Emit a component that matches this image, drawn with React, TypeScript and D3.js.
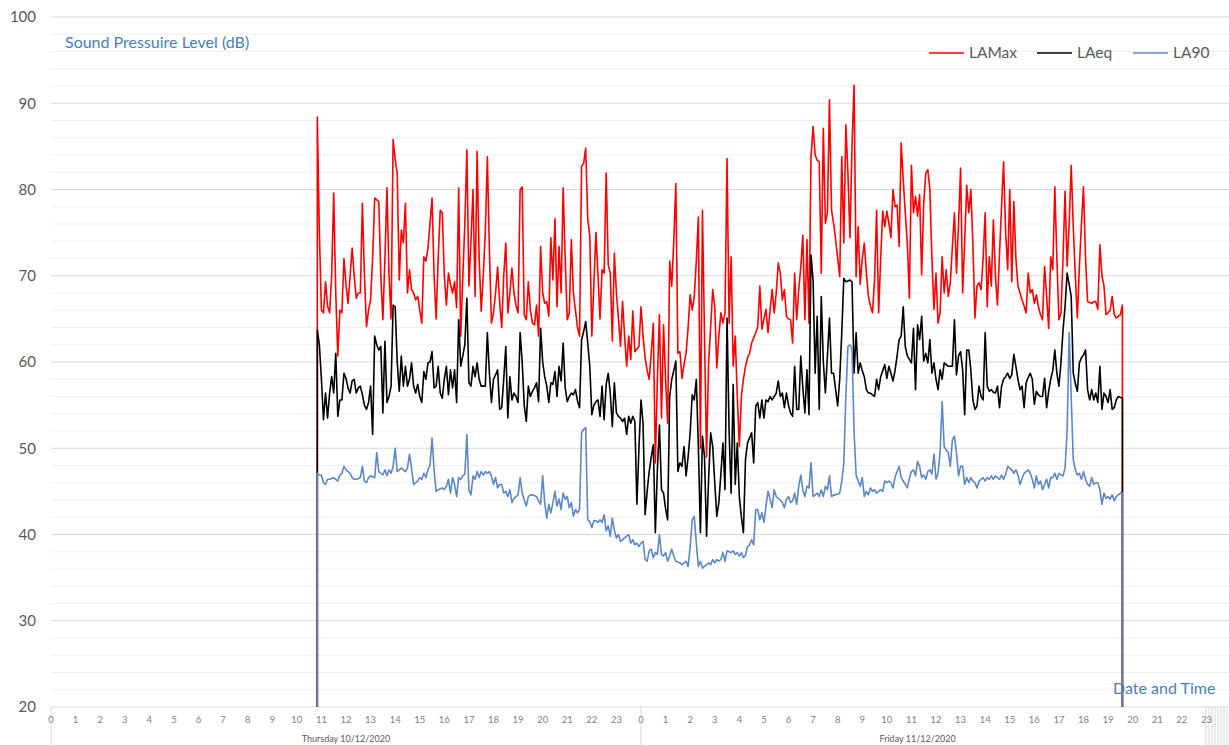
import React from 'react';
import * as d3 from 'd3';

// 5-minute samples from Thursday 10/12/2020 10:50 to Friday 11/12/2020 19:35
const LAMAX: number[] = [
  88.4, 75, 66, 65.7, 69.3, 66.5, 65.7, 70, 79.6, 68,
  60.7, 66, 65.7, 72, 69, 66.8, 70, 73.2, 70, 67.4,
  68, 68, 78.4, 70, 64.1, 66, 67.2, 72, 79, 78.8,
  78.6, 70, 64.9, 72, 80.2, 70, 65, 85.8, 83.5, 81.9,
  69.5, 75.3, 73.8, 78.4, 68, 70.7, 68.4, 68, 67.2, 67.6,
  66, 64.5, 72.2, 71.7, 73.2, 76, 79, 70, 65, 72,
  77.6, 77.3, 69.9, 66.6, 70.3, 69, 68, 69.3, 66.3, 80.2,
  63, 69.7, 76, 84.6, 68.8, 74, 80, 67.6, 84.4, 72,
  65.9, 70, 75, 83.8, 73, 64.5, 65.7, 68, 71, 67,
  64, 70, 73.8, 65.7, 68, 70.9, 68, 66.5, 65.7, 80,
  80.3, 65.5, 64.9, 69.3, 66, 64.5, 64.3, 66.6, 63, 73.4,
  68, 66.8, 67, 65.3, 74.4, 69.5, 76.6, 66.4, 73.4, 68,
  80.2, 72, 64.9, 65.7, 74.2, 68, 66, 64, 63, 82.7,
  83, 84.8, 76.6, 74.6, 63, 69, 75, 70, 65, 70.7,
  70.3, 81.9, 71.3, 70.3, 62.4, 72.6, 68, 65, 61.8, 67,
  63, 59.5, 63, 60.3, 65.9, 61.2, 61.5, 61.8, 66.4, 63,
  60.5, 59, 58, 61, 64.5, 48.3, 58, 65.5, 53.5, 64.3,
  58, 52.9, 71.7, 68.8, 74, 80.7, 61, 61.2, 58.1, 59.7,
  61, 64, 67.8, 66, 67.6, 71.7, 76.8, 50, 77.6, 63,
  49, 59.9, 64, 68.4, 66.4, 59.3, 63, 65.7, 64.5, 65.7,
  83.6, 64.5, 72.2, 59.5, 63, 56, 50.2, 56, 58, 59.5,
  60.5, 61, 62.2, 62.8, 63.4, 64.1, 68.8, 63.8, 65, 66.1,
  63.4, 66, 68.4, 65.7, 68, 71.5, 70.3, 67.2, 68.4, 65.3,
  65, 64.9, 62.2, 70.3, 64.9, 68.4, 71, 74.7, 64.9, 74.2,
  64.5, 83.8, 87.3, 84, 83.4, 83.2, 70.3, 87.1, 76.1, 77.3,
  90.4, 77.6, 76.1, 74.2, 72, 69.9, 83.8, 73.8, 87.5, 81.9,
  74.4, 85, 92.1, 69.9, 75.7, 69, 72, 73.8, 70.3, 67.6,
  66.5, 65.7, 69.5, 77.6, 65.7, 72, 77.5, 75.7, 77.5, 76.1,
  74.4, 80, 78, 78.2, 73.4, 85.4, 81.1, 77.3, 73.8, 67.4,
  82.8, 77.3, 79.2, 76.9, 79.4, 70.1, 78.4, 81.9, 82.3, 80,
  72, 66.1, 70.3, 64.5, 65.7, 72.2, 68, 70.7, 67.6, 69.2,
  73.4, 77.3, 70.3, 76, 82.5, 68, 74, 80.5, 77.3, 80,
  73.8, 65.1, 68.8, 69.2, 68.4, 72, 77.3, 66.4, 72.2, 68.8,
  76.5, 70, 66.6, 72.6, 78, 83.2, 75, 70.7, 80, 69.3,
  78.6, 72, 68.8, 68, 67.2, 66.5, 65.7, 70.3, 68, 68.4,
  66.8, 67.8, 66.4, 65.5, 64.9, 71.1, 67.6, 63.9, 72.2, 70.7,
  80.3, 72, 64.9, 65.7, 72, 79.8, 71.1, 76, 82.8, 75.7,
  70, 65.1, 71.1, 76, 80.3, 72, 67, 66.9, 66.8, 67,
  67, 66.1, 73.6, 70, 68.8, 65.5, 65.7, 66, 67.6, 65.5,
  65.1, 65.3, 65.5, 66.6,
];

const LAEQ: number[] = [
  63.7, 62, 58, 53.3, 56.4, 53.5, 56.4, 58.3, 56.4, 61,
  53.7, 55.6, 55.6, 58.7, 58.1, 57, 56.4, 57.8, 58, 56.4,
  57, 57.2, 56.2, 55, 54.5, 55.3, 57.2, 51.6, 63, 62,
  61.4, 61.8, 54.1, 62.4, 55.3, 56, 57.2, 66.6, 66.4, 60,
  56.6, 60.7, 57.2, 59.5, 57.2, 58, 59.9, 57.2, 56.4, 57.4,
  56, 55.3, 58.9, 58, 59.9, 60, 61.2, 57, 57.2, 59.5,
  56.4, 55.8, 58, 59.5, 56.2, 59.1, 57, 59.1, 55.3, 64.9,
  59.5, 60.7, 62, 67.4, 57.6, 57.2, 59.5, 58.3, 59.9, 58,
  57.2, 57.2, 57.2, 63.4, 58.7, 55.3, 58, 58.5, 59.1, 54.5,
  54.7, 58, 61.8, 53.5, 58.3, 55.6, 56.4, 56, 55.3, 63.4,
  60, 55, 53.1, 57.2, 56, 56.6, 57, 57.6, 55.4, 63.9,
  60, 58.3, 57.2, 55.3, 57.6, 57.4, 58.9, 56, 59.5, 57.8,
  62.2, 57, 55.4, 56, 56.4, 56.2, 56.8, 55.5, 54.7, 62.6,
  63.5, 64.7, 62.2, 59.5, 53.9, 55, 55.4, 55.6, 53.7, 57.2,
  53.3, 57.4, 58.7, 56.4, 52.5, 57.6, 54.1, 53.7, 53.5, 53.1,
  53.5, 51.6, 53.7, 52.9, 53.7, 53.1, 43.5, 50, 55.6, 52.9,
  42.3, 45, 47.3, 49, 50.4, 40.2, 47.5, 52.7, 45.2, 44.8,
  43, 41.7, 56, 58, 59, 60.1, 47.3, 48.3, 47.9, 50.2,
  46.8, 49, 51.8, 56.2, 55.6, 58, 50.2, 40.2, 51.4, 49,
  39.8, 46.4, 51.8, 50.2, 46, 42.1, 43.7, 47.1, 50.6, 45.2,
  65.1, 52, 44.8, 57.4, 45.8, 50.6, 44.4, 42, 40.2, 48.7,
  50.6, 51.2, 51.8, 48.3, 54.9, 55.3, 53.5, 55.6, 53.5, 55.6,
  55.4, 56, 55.6, 56, 56.4, 57.8, 56, 56.4, 54.7, 56.4,
  55, 54.1, 53.7, 59.5, 54.5, 54.5, 60.7, 57, 54.1, 59.1,
  53.9, 72.4, 69.5, 58.7, 65.3, 54.5, 67.6, 60, 56.4, 60.7,
  65.1, 58.7, 58.7, 56.8, 54.9, 58, 63.4, 69.7, 69.3, 69.4,
  69.5, 69.3, 58.7, 63.4, 58.7, 59.9, 59, 58.3, 56.8, 56.4,
  56.4, 56.2, 56, 58, 56.8, 58.3, 59, 59.7, 58.1, 59.5,
  58.7, 57.8, 59, 60.7, 62.6, 63, 66.4, 61.8, 60.7, 60.3,
  59.9, 63.9, 56.8, 64.3, 62.6, 65.3, 60.1, 61, 59.9, 62.6,
  58.7, 59.9, 58, 56.8, 59.1, 58, 59.9, 59.7, 59.5, 59.5,
  59.5, 64.9, 58.5, 60.7, 61.2, 59.1, 53.9, 61.4, 61.4, 59.1,
  55.6, 54.5, 54.9, 57.2, 56, 55.6, 63.4, 57.2, 56.6, 56.8,
  56.5, 56.4, 57.2, 54.7, 57.2, 58, 58.3, 58.7, 58.1, 58.5,
  60.9, 59.5, 58, 56.8, 57.2, 54.7, 57.6, 58.2, 58.7, 58,
  55.1, 56.6, 56.2, 56, 56, 58.1, 54.7, 56.6, 58, 59,
  61.4, 58.7, 57.2, 59.9, 63.7, 66.4, 70.3, 69, 67.6, 58.7,
  57.5, 56.6, 59.9, 60.5, 60.8, 61.4, 56.8, 55.6, 56.8, 55.6,
  56.4, 55.3, 59.5, 54.5, 56.4, 56, 55.3, 56.8, 54.5, 54.7,
  55.6, 56, 55.9, 55.8,
];

const LA90: number[] = [
  47.1, 46.9, 46.9, 46, 45.8, 46.4, 46.4, 46.5, 46.6, 46.4,
  46.2, 46.9, 47.1, 47.9, 47.5, 47.3, 47.1, 46.6, 46.4, 46.4,
  46.5, 46.6, 47.9, 46.2, 46, 46.6, 46.8, 46.7, 46.6, 49.5,
  47.3, 47.1, 46.9, 47.5, 46.8, 47.5, 47.1, 47.9, 50, 47.3,
  47.5, 47.7, 47.5, 47.3, 47.7, 49.3, 47.7, 45.8, 46, 46.2,
  46.6, 46.4, 47.1, 46.6, 47.5, 48, 51.2, 47.5, 45, 45.2,
  45.3, 45.4, 45.2, 45.6, 46.4, 44.8, 46.6, 45.8, 44.4, 46.6,
  46.4, 46.8, 47, 51.6, 45.2, 44.6, 46.8, 46.4, 47.3, 46.6,
  47.3, 46.9, 47.3, 47.1, 47.3, 46.8, 45.8, 46.6, 45.4, 45.8,
  45.8, 44.8, 45, 44.4, 45.2, 43.7, 44.2, 44.4, 44.6, 46.6,
  44.8, 44, 43.3, 44.4, 44.6, 44.6, 44.5, 44.4, 43.9, 43.5,
  46.8, 43.7, 41.9, 43.5, 42.5, 43.7, 45, 43.3, 44.1, 42.9,
  44.8, 44.1, 44.4, 43.1, 43.7, 42.1, 42.9, 42.5, 42.9, 51.8,
  52.2, 52.4, 41.7, 41.5, 40.8, 41.6, 41.6, 41.4, 41.7, 41.4,
  42.3, 40.4, 41, 39.8, 41.9, 40.5, 39.6, 40, 39.2, 39.4,
  39.6, 39.8, 40, 39, 39.4, 38.8, 39, 38.6, 39, 39.2,
  37.1, 36.9, 38.1, 38.3, 37.3, 37.9, 37.7, 40, 37.7, 37.5,
  37.9, 36.9, 37.5, 38.3, 37.5, 36.9, 36.8, 36.7, 36.5, 36.7,
  36.9, 36.3, 38.6, 41.7, 42.1, 39, 36.3, 36.9, 36.1, 36.3,
  36.5, 36.7, 36.5, 37.1, 36.7, 37.1, 36.9, 37.1, 37.9, 36.9,
  38.1, 38, 37.9, 38.1, 37.7, 37.9, 37.5, 37.9, 37.3, 37.6,
  38.6, 38.8, 39.4, 38.8, 42.9, 42.9, 41.7, 42.5, 41.4, 43.3,
  45, 44.1, 43.1, 45.2, 44.4, 44.2, 44, 43.7, 43.1, 44.1,
  44.4, 43.7, 43.9, 44.8, 43.5, 45.6, 46.9, 45.2, 44.4, 45.6,
  45.4, 48.3, 44.4, 44.6, 44.8, 44.4, 45.2, 44.4, 45.6, 45.2,
  46.8, 44.4, 44.6, 44.6, 44.7, 44.8, 46.2, 48.3, 56, 61.8,
  62, 61.5, 52, 46.9, 46.2, 45.6, 46.6, 44.4, 45, 44.6,
  45.4, 45, 45.2, 44.8, 45, 45.2, 45, 46.2, 46, 46.2,
  46, 45.4, 46.6, 47.3, 47.9, 46.6, 46.2, 45.8, 45.4, 46.5,
  47.3, 47.5, 46.8, 48.5, 47.9, 46.6, 46.9, 46.4, 47.3, 47.5,
  47, 49.3, 46.4, 47.1, 49.5, 55.4, 50.2, 49.8, 49.5, 47.9,
  51, 51.4, 49.5, 46.8, 47.9, 47.9, 45.8, 46.6, 46, 46.6,
  46.2, 46, 45.4, 46.2, 46.4, 46.6, 46.2, 46.6, 46.4, 46.8,
  46.4, 46.8, 46.6, 46.4, 46.9, 46.4, 47, 47.9, 47.7, 47.5,
  47.1, 47.5, 46.9, 45.8, 46.5, 47.1, 47.3, 47.5, 47.1, 46.4,
  45.4, 46.8, 45.8, 46.2, 45.2, 45.8, 46.4, 45.4, 46.6, 46.6,
  47.1, 46.4, 47.1, 46.9, 46.8, 47.7, 52, 63.4, 56, 48.7,
  47.5, 46.9, 47.1, 46.4, 47.3, 46.4, 45.8, 45.6, 46.6, 45.8,
  46, 46, 45.2, 43.5, 44.8, 44.2, 44.4, 44.1, 44.6, 43.9,
  44.4, 44.6, 44.8, 44.8,
];

const SERIES_NAMES = ['LAMax', 'LAeq', 'LA90'];
const SERIES_COLORS = ['#ff0000', '#000000', '#5b87c7'];
const START = new Date(2020, 11, 10, 10, 50);
const STEP_MIN = 5;
const OFF_LEVEL = 0; // meter switched off before/after the survey
const Y_TICKS = [20, 30, 40, 50, 60, 70, 80, 90, 100];
const HOUR_LABELS = ['0', '1', '2', '3', '4', '5', '6', '7', '8', '9', '10', '11',
  '12', '13', '14', '15', '16', '17', '18', '19', '20', '21', '22', '23'];
const DAY_LABELS = ['Thursday 10/12/2020', 'Friday 11/12/2020'];
const DAY_STARTS = [new Date(2020, 11, 10), new Date(2020, 11, 11)];
const DAY_LABEL_HOUR = [12, 11.25];

const FONT = 'Lato, "Open Sans", sans-serif';

export default function App() {
  const W = 1229;
  const H = 745;
  const left = 51;
  const top = 17;
  const bottom = 707;
  const x = d3.scaleTime()
    .domain([new Date(2020, 11, 10), new Date(2020, 11, 12)])
    .range([left, 1231]);
  const y = d3.scaleLinear().domain([20, 100]).range([bottom, top]);

  const seriesData = [LAMAX, LAEQ, LA90].map((vals) => {
    const pts = vals.map((v, i) => ({ t: d3.timeMinute.offset(START, i * STEP_MIN), v }));
    const first = pts[0].t;
    const last = pts[pts.length - 1].t;
    return [{ t: first, v: OFF_LEVEL }, ...pts, { t: last, v: OFF_LEVEL }];
  });

  const line = d3.line<{ t: Date; v: number }>()
    .x((d) => x(d.t))
    .y((d) => y(d.v));

  const minorTicks = d3.range(20, 101, 2).filter((v) => v % 10 !== 0);

  const hatchLines = d3.range(1206, 1229, 3);

  return (
    <svg width={W} height={H} style={{ position: 'absolute', left: 0, top: 0, background: '#fff' }}
      fontFamily={FONT}>
      <defs>
        <clipPath id="plot">
          <rect x={left} y={0} width={W - left} height={bottom} />
        </clipPath>
      </defs>
      <rect x={0} y={0} width={W} height={H} fill="#fff" />
      {minorTicks.map((t) => (
        <line key={'m' + t} x1={left} x2={W} y1={y(t)} y2={y(t)} stroke="#efefef" strokeWidth={1} />
      ))}
      {Y_TICKS.map((t) => (
        <line key={'g' + t} x1={left} x2={W} y1={y(t)} y2={y(t)} stroke="#d9d9d9" strokeWidth={1} />
      ))}
      {Y_TICKS.map((t) => (
        <text key={'yl' + t} x={36} y={y(t)} dy="0.35em" textAnchor="end" fontSize={15} fill="#595959">
          {t}
        </text>
      ))}
      {/* category group separators */}
      <line x1={left} x2={left} y1={bottom} y2={H} stroke="#d9d9d9" />
      <line x1={x(DAY_STARTS[1])} x2={x(DAY_STARTS[1])} y1={bottom} y2={H} stroke="#d9d9d9" />
      {hatchLines.map((hx) => (
        <line key={'h' + hx} x1={hx} x2={hx} y1={bottom} y2={H} stroke="#d6d6d6" strokeWidth={1} />
      ))}
      {DAY_STARTS.map((ds, di) =>
        HOUR_LABELS.map((lab, hi) => (
          <text key={'hl' + di + '-' + hi} x={x(d3.timeHour.offset(ds, hi))} y={720} dy="0.35em"
            textAnchor="middle" fontSize={9.5} fill="#7f7f7f">
            {lab}
          </text>
        ))
      )}
      {DAY_STARTS.map((ds, di) => (
        <text key={'dl' + di} x={x(d3.timeMinute.offset(ds, DAY_LABEL_HOUR[di] * 60))} y={739} dy="0.35em"
          textAnchor="middle" fontSize={9} fill="#595959">
          {DAY_LABELS[di]}
        </text>
      ))}
      <g clipPath="url(#plot)">
        {seriesData.map((d, i) => (
          <path key={SERIES_NAMES[i]} d={line(d) || ''} fill="none" stroke={SERIES_COLORS[i]}
            strokeWidth={1.6} strokeLinejoin="round" />
        ))}
      </g>
      <text x={65} y={42} dy="0.35em" fontSize={16} fill="#4a7ebb">Sound Pressuire Level (dB)</text>
      <text x={1113} y={688} dy="0.35em" fontSize={16} fill="#4a7ebb">Date and Time</text>
      {SERIES_NAMES.map((name, i) => {
        const lx = [929, 1037, 1133][i];
        return (
          <g key={'leg' + name}>
            <line x1={lx} x2={lx + 35} y1={53} y2={53} stroke={SERIES_COLORS[i]} strokeWidth={1.6} />
            <text x={lx + 40} y={53} dy="0.35em" fontSize={15.5} fill="#595959">{name}</text>
          </g>
        );
      })}
    </svg>
  );
}
